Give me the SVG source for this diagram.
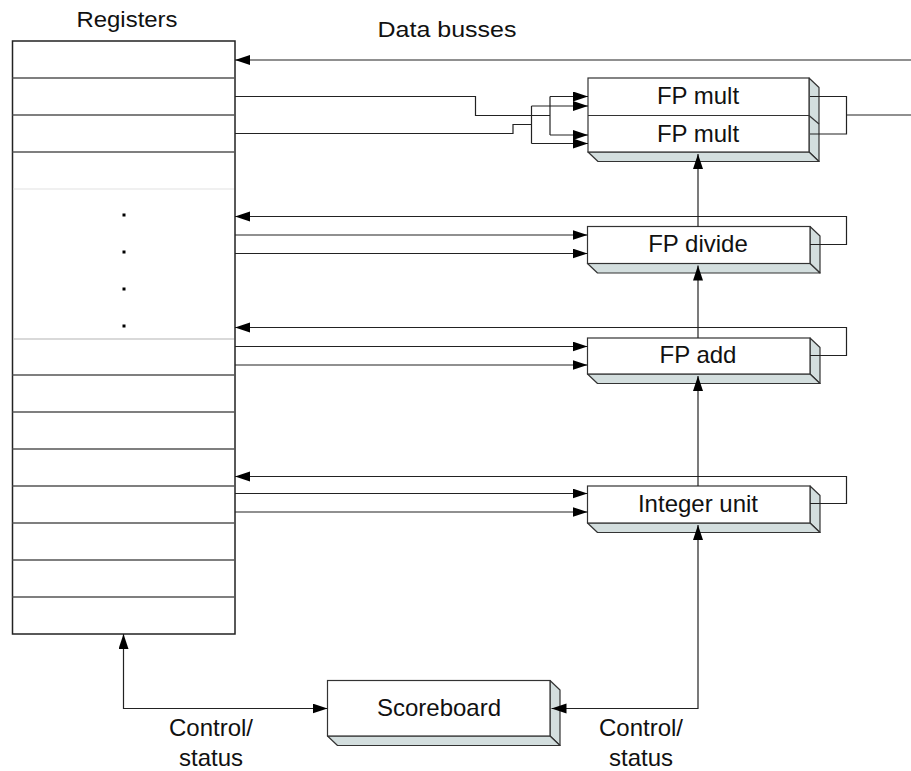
<svg xmlns="http://www.w3.org/2000/svg" width="911" height="771" viewBox="0 0 911 771">
  <style>
    text { font-family: "Liberation Sans", Arial, sans-serif; fill: #111; text-anchor: middle; }
    .lbl { font-size: 24px; }
    .front { fill: #ffffff; stroke: #333; stroke-width: 1.2; }
    .shade { fill: #d3dede; stroke: #333; stroke-width: 1.2; stroke-linejoin: round; }
    .reg { fill: #ffffff; stroke: #222; stroke-width: 1.5; }
    .row { stroke: #555; stroke-width: 1.5; }
    .wire { fill: none; stroke: #222; stroke-width: 1.2; }
  </style>
  <defs>
    <marker id="ah" markerUnits="userSpaceOnUse" markerWidth="17" markerHeight="11" refX="15" refY="5" orient="auto-start-reverse">
      <path d="M0,0 L15,5 L0,10 z" fill="#000"/>
    </marker>
  </defs>

  <rect width="911" height="771" fill="#ffffff"/>

  <!-- register file -->
  <g id="registers">
    <rect class="reg" x="12.5" y="41" width="222.5" height="593"/>
    <line class="row" x1="12.5" y1="78" x2="235" y2="78"/>
    <line class="row" x1="12.5" y1="115" x2="235" y2="115"/>
    <line class="row" x1="12.5" y1="152" x2="235" y2="152"/>
    <line x1="13.5" y1="189" x2="234" y2="189" stroke="#e2e2e2" stroke-width="1.2"/>
    <line x1="13.5" y1="339" x2="234" y2="339" stroke="#b4b4b4" stroke-width="1.2"/>
    <line class="row" x1="12.5" y1="375" x2="235" y2="375"/>
    <line class="row" x1="12.5" y1="412" x2="235" y2="412"/>
    <line class="row" x1="12.5" y1="449" x2="235" y2="449"/>
    <line class="row" x1="12.5" y1="486" x2="235" y2="486"/>
    <line class="row" x1="12.5" y1="523" x2="235" y2="523"/>
    <line class="row" x1="12.5" y1="560" x2="235" y2="560"/>
    <line class="row" x1="12.5" y1="597" x2="235" y2="597"/>
    <rect x="122.5" y="213.5" width="3" height="3" fill="#000"/>
    <rect x="122.5" y="250.5" width="3" height="3" fill="#000"/>
    <rect x="122.5" y="287.5" width="3" height="3" fill="#000"/>
    <rect x="122.5" y="324.5" width="3" height="3" fill="#000"/>
    <text x="127" y="27" font-size="22" textLength="101" lengthAdjust="spacingAndGlyphs">Registers</text>
  </g>

  <!-- two multipliers stacked -->
  <g id="fp-mult">
    <polygon class="shade" points="809,78 819,87.5 819,161.5 809,152"/>
    <polygon class="shade" points="588,152 809,152 819,161.5 598,161.5"/>
    <rect class="front" x="588" y="78" width="221" height="74"/>
    <line x1="588" y1="115.5" x2="809" y2="115.5" stroke="#333" stroke-width="1.2"/>
    <line x1="809" y1="115.5" x2="819" y2="124" stroke="#333" stroke-width="1.2"/>
    <text class="lbl" x="698" y="104">FP mult</text>
    <text class="lbl" x="698" y="142">FP mult</text>
  </g>

  <g id="fp-divide">
    <polygon class="shade" points="810,226.5 820,236 820,273 810,263.5"/>
    <polygon class="shade" points="587.5,263.5 810,263.5 820,273 597.5,273"/>
    <rect class="front" x="587.5" y="226.5" width="222.5" height="37"/>
    <text class="lbl" x="698" y="252">FP divide</text>
  </g>

  <g id="fp-add">
    <polygon class="shade" points="810,338 820,347.5 820,383.5 810,374"/>
    <polygon class="shade" points="587.5,374 810,374 820,383.5 597.5,383.5"/>
    <rect class="front" x="587.5" y="338" width="222.5" height="36"/>
    <text class="lbl" x="698" y="363">FP add</text>
  </g>

  <g id="integer-unit">
    <polygon class="shade" points="810,486 820,495.5 820,532.5 810,523"/>
    <polygon class="shade" points="587.5,523 810,523 820,532.5 597.5,532.5"/>
    <rect class="front" x="587.5" y="486" width="222.5" height="37"/>
    <text class="lbl" x="698" y="512">Integer unit</text>
  </g>

  <g id="scoreboard">
    <polygon class="shade" points="550,680.5 560,690 560,745.5 550,736"/>
    <polygon class="shade" points="327.5,736 550,736 560,745.5 337.5,745.5"/>
    <rect class="front" x="327.5" y="680.5" width="222.5" height="55.5"/>
    <text class="lbl" x="439" y="716">Scoreboard</text>
  </g>

  <!-- connectors -->
  <g id="connectors">
    <!-- result bus back into the register file -->
    <line class="wire" x1="911" y1="60" x2="235" y2="60" marker-end="url(#ah)"/>
    <!-- operand paths to the multipliers -->
    <polyline class="wire" points="235,96.5 475.5,96.5 475.5,115.5 550,115.5"/>
    <line class="wire" x1="550" y1="96.5" x2="550" y2="135"/>
    <line class="wire" x1="550" y1="96.5" x2="588" y2="96.5" marker-end="url(#ah)"/>
    <line class="wire" x1="550" y1="135" x2="588" y2="135" marker-end="url(#ah)"/>
    <polyline class="wire" points="235,133.5 513,133.5 513,124.5 531.5,124.5"/>
    <line class="wire" x1="531.5" y1="106" x2="531.5" y2="143.5"/>
    <line class="wire" x1="531.5" y1="106" x2="588" y2="106" marker-end="url(#ah)"/>
    <line class="wire" x1="531.5" y1="143.5" x2="588" y2="143.5" marker-end="url(#ah)"/>
    <!-- multiplier results -->
    <polyline class="wire" points="810,96.5 846.5,96.5 846.5,134 810,134"/>
    <line class="wire" x1="846.5" y1="115" x2="911" y2="115"/>

    <!-- divide -->
    <line class="wire" x1="235" y1="235" x2="587.5" y2="235" marker-end="url(#ah)"/>
    <line class="wire" x1="235" y1="253.5" x2="587.5" y2="253.5" marker-end="url(#ah)"/>
    <polyline class="wire" points="810,244.5 846.5,244.5 846.5,216.5 235,216.5" marker-end="url(#ah)"/>

    <!-- add -->
    <line class="wire" x1="235" y1="346.5" x2="587.5" y2="346.5" marker-end="url(#ah)"/>
    <line class="wire" x1="235" y1="365" x2="587.5" y2="365" marker-end="url(#ah)"/>
    <polyline class="wire" points="810,355.5 846.5,355.5 846.5,327.5 235,327.5" marker-end="url(#ah)"/>

    <!-- integer -->
    <line class="wire" x1="235" y1="493.5" x2="587.5" y2="493.5" marker-end="url(#ah)"/>
    <line class="wire" x1="235" y1="512" x2="587.5" y2="512" marker-end="url(#ah)"/>
    <polyline class="wire" points="810,503.5 846.5,503.5 846.5,476.5 235,476.5" marker-end="url(#ah)"/>

    <!-- vertical chain between units -->
    <line class="wire" x1="698" y1="486" x2="698" y2="376" marker-end="url(#ah)"/>
    <line class="wire" x1="698" y1="338" x2="698" y2="265.5" marker-end="url(#ah)"/>
    <line class="wire" x1="698" y1="226.5" x2="698" y2="154" marker-end="url(#ah)"/>

    <!-- scoreboard control/status -->
    <polyline class="wire" points="123.5,634 123.5,708.5 327.5,708.5" marker-start="url(#ah)" marker-end="url(#ah)"/>
    <polyline class="wire" points="698,525 698,708.5 551.5,708.5" marker-start="url(#ah)" marker-end="url(#ah)"/>
  </g>

  <g id="labels">
    <text x="447" y="37" font-size="22" textLength="139" lengthAdjust="spacingAndGlyphs">Data busses</text>
    <text class="lbl" x="211" y="736">Control/</text>
    <text class="lbl" x="211" y="766">status</text>
    <text class="lbl" x="641" y="736">Control/</text>
    <text class="lbl" x="641" y="766">status</text>
  </g>
</svg>
